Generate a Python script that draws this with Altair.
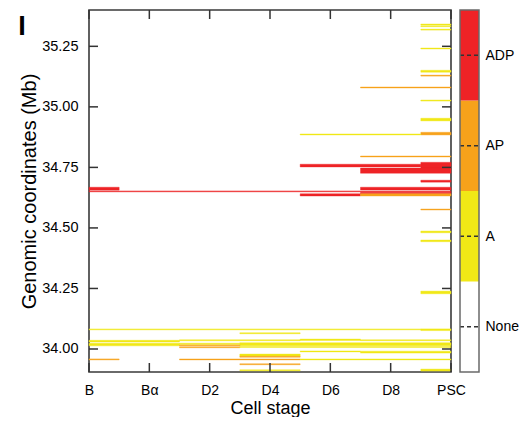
import altair as alt
import pandas as pd

stages = ["B", "Bα", "D2", "D4", "D6", "D8", "PSC"]
states = ["None", "A", "AP", "ADP"]
state_colors = ["#FFFFFF", "#F1E816", "#F7A21B", "#EE2326"]
y_ticks = [34.00, 34.25, 34.50, 34.75, 35.00, 35.25]
y_domain = [33.905, 35.40]

# chromatin-state segments: first stage, last stage, low Mb, high Mb, state
seg_first = [6, 6, 6, 6, 6, 6, 5, 6, 6, 6, 4, 5, 4, 6, 5, 6, 5, 0, 5, 4, 5, 0, 6, 6, 6, 6,
             0, 6, 3, 0, 2, 4, 5, 0, 2, 3, 2, 2, 3, 4, 5, 3, 3, 0, 2, 4, 3, 3, 6]
seg_last = [6, 6, 6, 6, 6, 6, 6, 6, 6, 6, 5, 6, 5, 6, 6, 6, 6, 0, 6, 4, 6, 6, 6, 6, 6, 6,
            5, 6, 3, 1, 3, 4, 6, 1, 2, 6, 2, 2, 6, 4, 6, 3, 3, 0, 3, 6, 3, 3, 6]
seg_lo = [35.338, 35.331, 35.317, 35.239, 35.143, 35.127, 35.078, 35.024, 34.942, 34.884,
          34.884, 34.793, 34.752, 34.747, 34.726, 34.689, 34.657, 34.656, 34.641, 34.632,
          34.632, 34.649, 34.574, 34.480, 34.443, 34.228,
          34.079, 34.076, 34.063, 34.029, 34.034, 34.035, 34.034, 34.013, 34.019, 34.013,
          34.013, 34.005, 34.006, 33.988, 33.983, 33.970, 33.966, 33.955, 33.955, 33.955,
          33.935, 33.910, 33.909]
seg_hi = [35.342, 35.335, 35.321, 35.243, 35.151, 35.131, 35.082, 35.028, 34.953, 34.895,
          34.888, 34.797, 34.763, 34.771, 34.747, 34.697, 34.668, 34.668, 34.647, 34.641,
          34.641, 34.653, 34.578, 34.487, 34.450, 34.239,
          34.083, 34.083, 34.067, 34.036, 34.038, 34.041, 34.038, 34.024, 34.024, 34.026,
          34.017, 34.009, 34.010, 33.992, 33.991, 33.979, 33.970, 33.959, 33.959, 33.959,
          33.939, 33.914, 33.917]
seg_state = ["A", "A", "A", "A", "A", "AP", "AP", "A", "A", "AP",
             "A", "AP", "ADP", "ADP", "ADP", "ADP", "ADP", "ADP", "ADP", "ADP",
             "AP", "ADP", "AP", "A", "A", "A",
             "A", "A", "A", "A", "A", "A", "A", "A", "A", "A",
             "AP", "AP", "A", "A", "A", "A", "AP", "AP", "AP", "A",
             "AP", "A", "A"]

n_last = len(stages) - 1
seg = pd.DataFrame({"first": seg_first, "last": seg_last, "lo": seg_lo,
                    "hi": seg_hi, "state": seg_state})
seg["x0"] = (seg["first"] - 0.5).clip(lower=0)
seg["x1"] = (seg["last"] + 0.5).clip(upper=n_last)
seg["order"] = range(len(seg))

FONT = "Liberation Sans"
W, H = 362, 362
TICK = 9
LEG_OFF = 28      # colour bar right edge, px beyond the plot
LEG_W = 19

yscale = alt.Scale(domain=y_domain, nice=False, zero=False)
xscale = alt.Scale(domain=[0, n_last], nice=False, zero=False)

label_js = "[" + ",".join("'" + s + "'" for s in stages) + "][datum.value]"
xaxis = alt.Axis(values=list(range(len(stages))), labelExpr=label_js, title="Cell stage",
                 grid=False, ticks=False, domain=False, labelFlush=False,
                 labelOverlap=False, labelFontSize=14, labelPadding=11,
                 titleFontSize=18, titleFontWeight="normal", titlePadding=2,
                 labelColor="black", titleColor="black", labelFont=FONT, titleFont=FONT)
yaxis = alt.Axis(values=y_ticks, format=".2f", title="Genomic coordinates (Mb)",
                 grid=False, ticks=False, domain=False, labelFontSize=14.5, labelPadding=11,
                 titleFontSize=20, titleFontWeight="normal", titlePadding=2,
                 labelColor="black", titleColor="black", labelFont=FONT, titleFont=FONT)

color_scale = alt.Scale(domain=states, range=state_colors)

segments = alt.Chart(seg).mark_rect(strokeWidth=0.4).encode(
    x=alt.X("x0:Q", scale=xscale, axis=xaxis),
    x2="x1:Q",
    y=alt.Y("lo:Q", scale=yscale, axis=yaxis),
    y2="hi:Q",
    color=alt.Color("state:N", scale=color_scale, legend=None),
    stroke=alt.Stroke("state:N", scale=color_scale, legend=None),
    order="order:Q",
)

ytick_df = pd.DataFrame({"v": y_ticks})
xtick_df = pd.DataFrame({"i": list(range(len(stages)))})
tick_color = "#333333"

left_ticks = alt.Chart(ytick_df).mark_rule(color=tick_color, strokeWidth=1.5).encode(
    y=alt.Y("v:Q", scale=yscale, axis=yaxis), x=alt.value(0), x2=alt.value(TICK))
right_ticks = alt.Chart(ytick_df).mark_rule(color=tick_color, strokeWidth=1.5).encode(
    y=alt.Y("v:Q", scale=yscale, axis=yaxis), x=alt.value(W - TICK), x2=alt.value(W))
top_ticks = alt.Chart(xtick_df).mark_rule(color=tick_color, strokeWidth=1.5).encode(
    x=alt.X("i:Q", scale=xscale, axis=xaxis), y=alt.value(0), y2=alt.value(TICK))
bottom_ticks = alt.Chart(xtick_df).mark_rule(color=tick_color, strokeWidth=1.5).encode(
    x=alt.X("i:Q", scale=xscale, axis=xaxis), y=alt.value(H - TICK), y2=alt.value(H))

panel = alt.Chart(pd.DataFrame({"t": ["I"]})).mark_text(
    fontSize=27, fontWeight="bold", font=FONT, align="center", baseline="alphabetic",
    color="black").encode(text="t:N", x=alt.value(-67), y=alt.value(25))

main = alt.layer(segments, left_ticks, right_ticks, top_ticks, bottom_ticks, panel)

# colour bar legend
leg = pd.DataFrame({"state": states, "k": list(range(len(states)))})
leg["k1"] = leg["k"] + 1
leg["mid"] = leg["k"] + 0.5
frame_df = pd.DataFrame({"lo": [0], "hi": [len(states)]})
lscale = alt.Scale(domain=[0, len(states)], nice=False, zero=False)
leg_js = "[" + ",".join("'" + s + "'" for s in states) + "][floor(datum.value)]"
laxis = alt.Axis(orient="right", offset=LEG_OFF, values=list(leg["mid"]), labelExpr=leg_js,
                 title=None, grid=False, ticks=False, domain=False, labelFontSize=14,
                 labelPadding=6, labelColor="black", labelFont=FONT)
bx0, bx1 = W + LEG_OFF - LEG_W, W + LEG_OFF
bar = alt.Chart(leg).mark_rect().encode(
    y=alt.Y("k:Q", scale=lscale, axis=laxis), y2="k1:Q",
    x=alt.value(bx0), x2=alt.value(bx1),
    color=alt.Color("state:N", scale=color_scale, legend=None))
bar_frame = alt.Chart(frame_df).mark_rect(fill=None, stroke="#6a6a6a", strokeWidth=1.5).encode(
    y=alt.Y("lo:Q", scale=lscale, axis=laxis), y2="hi:Q",
    x=alt.value(bx0), x2=alt.value(bx1))
dashes = alt.Chart(leg).mark_rule(color="#333333", strokeWidth=1.3, strokeDash=[4, 3]).encode(
    y=alt.Y("mid:Q", scale=lscale, axis=laxis), x=alt.value(bx0), x2=alt.value(bx1 + 1))
legend = alt.layer(bar, dashes, bar_frame)

chart = alt.layer(main, legend).resolve_scale(y="independent").properties(
    width=W, height=H,
    autosize=alt.AutoSizeParams(type="none"),
    padding={"left": 81, "top": 2, "right": 68, "bottom": 45},
).configure(font=FONT).configure_view(stroke="#3a3a3a", strokeWidth=1.6)

chart.save("out.html", embed_options={"renderer": "svg", "actions": False})
